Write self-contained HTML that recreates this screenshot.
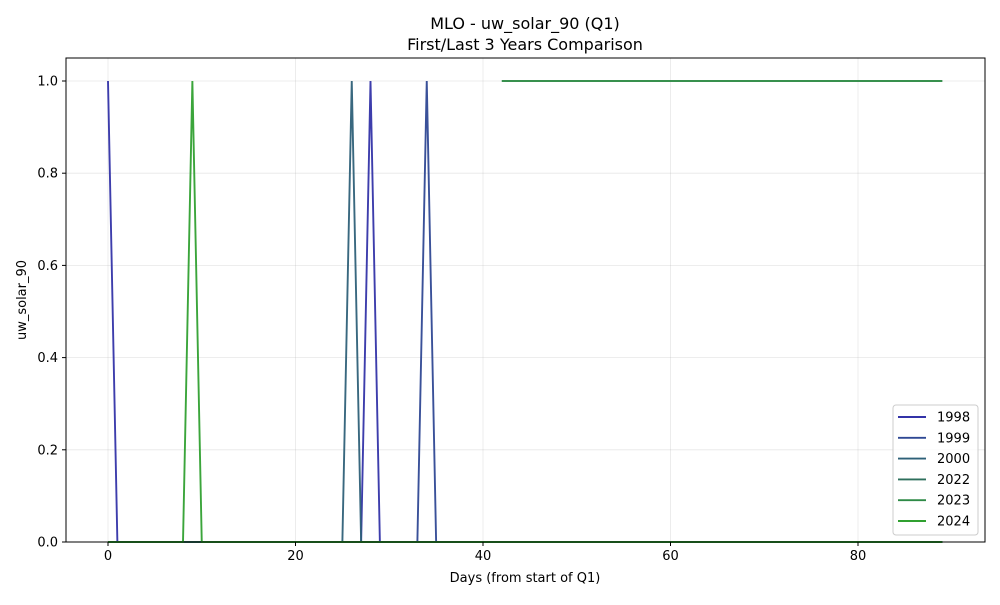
<!DOCTYPE html>
<html><head><meta charset="utf-8"><style>
body{margin:0;background:#fff}
svg text{font-family:"DejaVu Sans","Liberation Sans",sans-serif;fill:#000}
</style></head><body>
<svg id="chart" width="1000" height="600" xmlns="http://www.w3.org/2000/svg">
<rect width="1000" height="600" fill="#fff"/>
<text x="525" y="29" font-size="16" text-anchor="middle">MLO - uw_solar_90 (Q1)</text>
<text x="525" y="50" font-size="16" text-anchor="middle">First/Last 3 Years Comparison</text>
<g id="grid"></g><g id="series"></g>
<rect x="66" y="58" width="919" height="484" fill="none" stroke="#000" stroke-width="1"/>
<g id="ticks"></g>
<text x="525" y="582" font-size="13" text-anchor="middle">Days (from start of Q1)</text>
<text x="26" y="300" font-size="13" text-anchor="middle" transform="rotate(-90 26 300)">uw_solar_90</text>
<g id="legend"></g>
</svg>
<script>
const years=["1998","1999","2000","2022","2023","2024"];
const colors=["#3333a8","#2f4894","#2e6078","#2e6f5c","#2e8a46","#30a030"];
const s1998=[1,0,0,0,0,0,0,0,0,0, 0,0,0,0,0,0,0,0,0,0, 0,0,0,0,0,0,0,0,1,0, 0,0,0,0,0,0,0,0,0,0, 0,0,0,0,0,0,0,0,0,0, 0,0,0,0,0,0,0,0,0,0, 0,0,0,0,0,0,0,0,0,0, 0,0,0,0,0,0,0,0,0,0, 0,0,0,0,0,0,0,0,0,0];
const s1999=[0,0,0,0,0,0,0,0,0,0, 0,0,0,0,0,0,0,0,0,0, 0,0,0,0,0,0,0,0,0,0, 0,0,0,0,1,0,0,0,0,0, 0,0,0,0,0,0,0,0,0,0, 0,0,0,0,0,0,0,0,0,0, 0,0,0,0,0,0,0,0,0,0, 0,0,0,0,0,0,0,0,0,0, 0,0,0,0,0,0,0,0,0,0];
const s2000=[0,0,0,0,0,0,0,0,0,0, 0,0,0,0,0,0,0,0,0,0, 0,0,0,0,0,0,1,0,0,0, 0,0,0,0,0,0,0,0,0,0, 0,0,0,0,0,0,0,0,0,0, 0,0,0,0,0,0,0,0,0,0, 0,0,0,0,0,0,0,0,0,0, 0,0,0,0,0,0,0,0,0,0, 0,0,0,0,0,0,0,0,0,0];
const s2022=[0,0,0,0,0,0,0,0,0,0, 0,0,0,0,0,0,0,0,0,0, 0,0,0,0,0,0,0,0,0,0, 0,0,0,0,0,0,0,0,0,0, 0,0,0,0,0,0,0,0,0,0, 0,0,0,0,0,0,0,0,0,0, 0,0,0,0,0,0,0,0,0,0, 0,0,0,0,0,0,0,0,0,0, 0,0,0,0,0,0,0,0,0,0];
const s2023=[null,null,null,null,null,null,null,null,null,null, null,null,null,null,null,null,null,null,null,null, null,null,null,null,null,null,null,null,null,null, null,null,null,null,null,null,null,null,null,null, null,null,1,1,1,1,1,1,1,1, 1,1,1,1,1,1,1,1,1,1, 1,1,1,1,1,1,1,1,1,1, 1,1,1,1,1,1,1,1,1,1, 1,1,1,1,1,1,1,1,1,1];
const s2024=[0,0,0,0,0,0,0,0,0,1, 0,0,0,0,0,0,0,0,0,0, 0,0,0,0,0,0,0,0,0,0, 0,0,0,0,0,0,0,0,0,0, 0,0,0,0,0,0,0,0,0,0, 0,0,0,0,0,0,0,0,0,0, 0,0,0,0,0,0,0,0,0,0, 0,0,0,0,0,0,0,0,0,0, 0,0,0,0,0,0,0,0,0,0];
const xTicks=[0,20,40,60,80];
const yTicks=[0,0.2,0.4,0.6,0.8,1.0];
const allSeries=[s1998,s1999,s2000,s2022,s2023,s2024];
const NS="http://www.w3.org/2000/svg";
const X=v=>108+v*9.375, Y=v=>542-v*461;
function mk(t,a,p){const e=document.createElementNS(NS,t);for(const k in a)e.setAttribute(k,a[k]);p.appendChild(e);return e;}
const grid=document.getElementById('grid'),ticks=document.getElementById('ticks');
xTicks.forEach(v=>{
 const g=mk('line',{x1:X(v),x2:X(v),y1:58,y2:542,stroke:'#b0b0b0','stroke-opacity':0.3,'stroke-width':0.8},grid);
 
 
 mk('line',{x1:X(v),x2:X(v),y1:542,y2:546,stroke:'#000'},ticks);
 const t=mk('text',{x:X(v),y:560,'font-size':13,'text-anchor':'middle'},ticks);t.textContent=v;
 
 
});
yTicks.forEach(v=>{
 const g=mk('line',{x1:66,x2:985,y1:Y(v),y2:Y(v),stroke:'#b0b0b0','stroke-opacity':0.3,'stroke-width':0.8},grid);
 
 
 mk('line',{x1:62,x2:66,y1:Y(v),y2:Y(v),stroke:'#000'},ticks);
 const t=mk('text',{x:58,y:Y(v)+4.5,'font-size':13,'text-anchor':'end'},ticks);t.textContent=v.toFixed(1);
 
 
});
const sg=document.getElementById('series');
allSeries.forEach((s,i)=>{
 let d='',pen=false;
 s.forEach((v,j)=>{if(v===null){pen=false;return;}d+=(pen?'L':'M')+X(j)+' '+Y(v)+' ';pen=true;});
 const p=mk('path',{d:d,fill:'none',stroke:colors[i],'stroke-width':1.9,'stroke-opacity':0.95},sg);
 
 
});
const lg=document.getElementById('legend');
const box=mk('rect',{x:893,y:405,width:85,height:130,rx:3,fill:'#fff','fill-opacity':0.8,stroke:'#ccc'},lg);


years.forEach((y,i)=>{
 const cy=417+i*20.8;
 const l=mk('line',{x1:898,x2:926,y1:cy,y2:cy,stroke:colors[i],'stroke-width':1.9},lg);
 
 
 const t=mk('text',{x:937,y:cy+4.5,'font-size':13},lg);t.textContent=y;
 
 
});
</script>
</body></html>
